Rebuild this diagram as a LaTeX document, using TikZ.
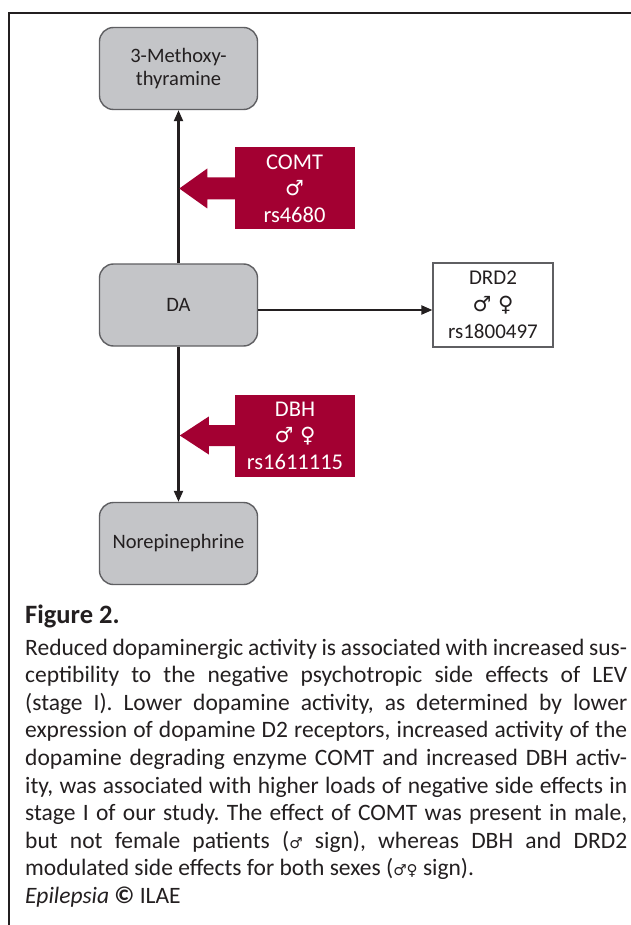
\documentclass[tikz,border=0pt]{standalone}
\usepackage{fontspec}
\setmainfont{Carlito}
\newfontfamily\symfont{DejaVu Sans}
\usetikzlibrary{arrows.meta}
\definecolor{boxgray}{RGB}{196,197,200}
\definecolor{boxedge}{RGB}{95,95,98}
\definecolor{redbox}{RGB}{163,0,50}
\definecolor{txt}{RGB}{35,31,32}
\frenchspacing
\begin{document}
\begin{tikzpicture}[x=1pt,y=-1pt,
  graybox/.style={draw=boxedge, line width=1.4pt, fill=boxgray, rounded corners=14pt,
    minimum width=158pt, minimum height=82pt, font=\fontsize{20.5}{23}\selectfont,
    text=txt, align=center, inner sep=0pt},
  genebox/.style={fill=redbox, minimum width=120pt, minimum height=82pt, text=white,
    align=center, font=\fontsize{22.5}{26.5}\selectfont, inner sep=0pt},
  drdbox/.style={draw=boxedge, line width=1.2pt, fill=white, minimum width=120pt,
    minimum height=84pt, text=txt, align=center, font=\fontsize{21}{27}\selectfont, inner sep=0pt},
  conn/.style={draw=txt, line width=2.1pt, -{Triangle[length=11pt,width=9pt]}},
  fatarrow/.style={fill=redbox}
]
\useasboundingbox (0,0) rectangle (630,925);
\fill[white] (0,0) rectangle (630,925);
\draw[line width=2.3pt, txt] (9,930) -- (9,13) -- (635,13);

\node[graybox] (mt) at (178.5,68.5) {3-Methoxy-\\thyramine};
\node[graybox] (da) at (178.5,305) {DA};
\node[graybox] (ne) at (178.5,543.5) {Norepinephrine};
\node[genebox] (comt) at (294.5,188.5) {COMT\\{\symfont\fontsize{21}{26}\selectfont ♂}\\rs4680};
\node[genebox] (dbh) at (295,435.5) {DBH\\{\symfont\fontsize{21}{26}\selectfont ♂ ♀}\\rs1611115};
\node[drdbox] (drd) at (493,305) {DRD2\\{\symfont\fontsize{21}{26}\selectfont ♂ ♀}\\rs1800497};

\draw[conn] (da.north) -- (mt.south);
\draw[conn] (da.south) -- (ne.north);
\draw[conn] ([yshift=-5pt]da.east) -- ([yshift=-5pt]drd.west);

\fill[fatarrow, shift={(comt.west)}] (0.5,-11) -- (-27,-11) -- (-27,-20) -- (-55,0)
  -- (-27,20) -- (-27,11) -- (0.5,11) -- cycle;
\fill[fatarrow, shift={(dbh.west)}] (0.5,-10.5) -- (-26,-10.5) -- (-26,-19) -- (-55,0)
  -- (-26,19) -- (-26,10.5) -- (0.5,10.5) -- cycle;

\node[anchor=base west, inner sep=0pt, text=txt, font=\fontsize{26.5}{30}\selectfont\bfseries]
  (fig) at (25,623) {Figure 2.};
\node[anchor=base west, inner sep=0pt, text width=602pt, align=justify, text=txt,
  font=\fontsize{23.5}{27.6}\selectfont] (cap) at (25,655) {\noindent
Reduced dopaminergic activity is associated with increased sus-\linebreak
ceptibility to the negative psychotropic side effects of LEV\linebreak
(stage I). Lower dopamine activity, as determined by lower\linebreak
expression of dopamine D2 receptors, increased activity of the\linebreak
dopamine degrading enzyme COMT and increased DBH activ-\linebreak
ity, was associated with higher loads of negative side effects in\linebreak
stage I of our study. The effect of COMT was present in male,\linebreak
but not female patients ({\symfont\fontsize{15}{15}\selectfont ♂} sign), whereas DBH and DRD2\linebreak
modulated side effects for both sexes ({\symfont\fontsize{15}{15}\selectfont ♂♀} sign).\\
\textit{Epilepsia} {\fontsize{24}{24}\selectfont\bfseries ©} ILAE};
\end{tikzpicture}
\end{document}
